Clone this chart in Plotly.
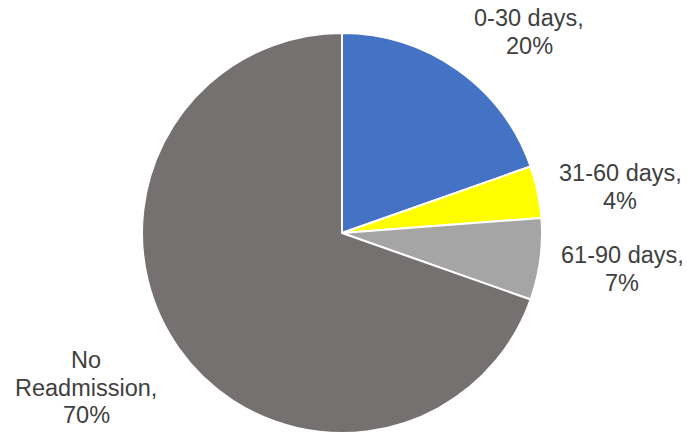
import plotly.graph_objects as go

categories = ["0-30 days", "31-60 days", "61-90 days", "No Readmission"]
values = [19.6, 4.2, 6.6, 69.6]
colors = ["#4472C4", "#FFFF00", "#A5A5A5", "#767171"]

W, H = 687, 434
cx, cy, r = 342, 233, 200

fig = go.Figure(go.Pie(
    labels=categories,
    values=values,
    sort=False,
    direction="clockwise",
    rotation=0,
    marker=dict(colors=colors, line=dict(color="white", width=2)),
    textinfo="none",
    hoverinfo="label+percent",
    showlegend=False,
    domain=dict(x=[(cx - r) / W, (cx + r) / W], y=[(H - cy - r) / H, (H - cy + r) / H]),
))

# label layout: centre x and y of first line (pixels)
label_pos = [(529, 18), (620, 173), (622, 255), (86, 360)]
label_lines = [["0-30 days,"], ["31-60 days,"], ["61-90 days,"], ["No", "Readmission,"]]
line_gap = 27.5
total = sum(values)
for (px, py), lines, v in zip(label_pos, label_lines, values):
    all_lines = lines + [f"{round(v / total * 100):.0f}%"]
    for i, t in enumerate(all_lines):
        fig.add_annotation(
            x=px / W, y=1 - (py + i * line_gap) / H, xref="paper", yref="paper",
            xanchor="center", yanchor="middle", showarrow=False,
            text=t,
            font=dict(family="Liberation Sans, Arial", size=23.5, color="#404040"),
        )

fig.update_layout(
    width=W, height=H,
    margin=dict(l=0, r=0, t=0, b=0),
    paper_bgcolor="white", plot_bgcolor="white",
)
fig.write_html("out.html")
